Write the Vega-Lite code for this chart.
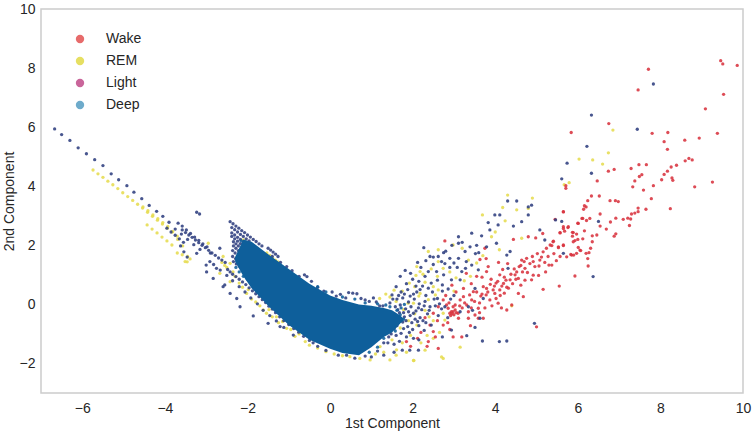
{"$schema":"https://vega.github.io/schema/vega-lite/v6.json","width":702,"height":384,"autosize":"none","padding":{"left":41,"top":9,"right":10,"bottom":39},"background":"white","config":{"font":"Liberation Sans","view":{"stroke":"#cccccc","strokeWidth":1.5}},
"layer":[
{"data":{"values":[{"c":"Wake","x":0,"y":0},{"c":"REM","x":0,"y":0},{"c":"Light","x":0,"y":0},{"c":"Deep","x":0,"y":0}]},
"mark":{"type":"point","filled":true,"opacity":0,"size":1},
"encoding":{"x":{"field":"x","type":"quantitative","title":"1st Component","scale":{"domain":[-7,10],"nice":false},"axis":{"values":[-6,-4,-2,0,2,4,6,8,10],"grid":false,"ticks":false,"domain":false,"labelFlush":false,"labelFontSize":14,"labelColor":"#262626","labelPadding":8,"titleFontSize":14,"titleFontWeight":"normal","titleColor":"#262626","titlePadding":1}},
"y":{"field":"y","type":"quantitative","title":"2nd Component","scale":{"domain":[-3,10],"nice":false},"axis":{"values":[-2,0,2,4,6,8,10],"grid":false,"ticks":false,"domain":false,"labelFlush":false,"labelFontSize":14,"labelColor":"#262626","labelPadding":6,"titleFontSize":14,"titleFontWeight":"normal","titleColor":"#262626","titlePadding":3}},
"color":{"field":"c","type":"nominal","scale":{"domain":["Wake","REM","Light","Deep"],"range":["#e76b6b","#e6df62","#c9659a","#6eabcb"]},"legend":{"title":null,"orient":"none","legendX":32,"legendY":23,"labelFontSize":14,"labelColor":"#262626","symbolSize":70,"symbolType":"circle","symbolOpacity":1,"symbolStrokeWidth":0,"labelOffset":19,"rowPadding":8}}}},
{"data":{"values":[
{"c":"REM","x":-5.74,"y":4.55},{"c":"REM","x":-5.62,"y":4.42},{"c":"REM","x":-5.5,"y":4.3},{"c":"REM","x":-5.38,"y":4.17},{"c":"REM","x":-5.26,"y":4.05},{"c":"REM","x":-5.14,"y":3.92},{"c":"REM","x":-5.02,"y":3.78},{"c":"REM","x":-4.9,"y":3.65},{"c":"REM","x":-4.78,"y":3.52},{"c":"REM","x":-4.66,"y":3.39},{"c":"REM","x":-4.54,"y":3.26},{"c":"REM","x":-4.42,"y":3.12},{"c":"REM","x":-4.3,"y":2.98},{"c":"REM","x":-4.18,"y":2.85},{"c":"REM","x":-4.06,"y":2.72},{"c":"REM","x":-3.94,"y":2.58},{"c":"REM","x":-3.82,"y":2.45},{"c":"REM","x":-3.7,"y":2.31},{"c":"REM","x":-3.58,"y":1.68},{"c":"REM","x":-3.46,"y":1.44},
{"c":"REM","x":-4.53,"y":3.3},{"c":"REM","x":-4.41,"y":3.17},{"c":"REM","x":-4.29,"y":3.03},{"c":"REM","x":-4.17,"y":2.9},{"c":"REM","x":-4.05,"y":2.77},{"c":"REM","x":-3.93,"y":2.64},{"c":"REM","x":-3.81,"y":2.47},{"c":"REM","x":-3.69,"y":2.2},{"c":"REM","x":-3.57,"y":1.98},{"c":"REM","x":-3.45,"y":1.62},{"c":"REM","x":-3.39,"y":1.54},
{"c":"REM","x":-4.43,"y":2.69},{"c":"REM","x":-4.31,"y":2.55},{"c":"REM","x":-4.19,"y":2.42},{"c":"REM","x":-4.07,"y":2.28},{"c":"REM","x":-3.95,"y":2.15},{"c":"REM","x":-3.83,"y":2.01},{"c":"REM","x":-3.7,"y":1.74},
{"c":"REM","x":-2.95,"y":2.07},{"c":"REM","x":-3.51,"y":1.45},{"c":"REM","x":-2.59,"y":1.62},{"c":"REM","x":-2.42,"y":1.39},{"c":"REM","x":-2.42,"y":0.77},{"c":"REM","x":-2.67,"y":1.05},{"c":"REM","x":-2.02,"y":0.37},{"c":"REM","x":-1.62,"y":-0.19},{"c":"REM","x":-1.05,"y":-0.81},{"c":"REM","x":-1.54,"y":-0.3},{"c":"REM","x":-1.4,"y":-0.42},{"c":"REM","x":-1.25,"y":-0.62},{"c":"REM","x":-0.85,"y":-1.08},{"c":"REM","x":-0.6,"y":-1.26},{"c":"REM","x":-2.3,"y":0.95},{"c":"REM","x":-2.2,"y":0.72},{"c":"REM","x":-2.5,"y":1.25},{"c":"REM","x":-1.9,"y":0.18},{"c":"REM","x":-2.62,"y":1.42},{"c":"REM","x":-2.55,"y":1.32},{"c":"REM","x":-2.35,"y":1.1},{"c":"REM","x":-2.12,"y":0.58},{"c":"REM","x":-1.98,"y":0.5},{"c":"REM","x":-1.8,"y":0.08},{"c":"REM","x":-1.7,"y":-0.05},{"c":"REM","x":-1.48,"y":-0.18},{"c":"REM","x":-1.3,"y":-0.42},{"c":"REM","x":-1.15,"y":-0.58},{"c":"REM","x":-0.95,"y":-0.85},{"c":"REM","x":-0.75,"y":-1.0},{"c":"REM","x":-0.5,"y":-1.38},{"c":"REM","x":-0.3,"y":-1.48},{"c":"REM","x":-0.1,"y":-1.6},{"c":"REM","x":0.1,"y":-1.68},{"c":"REM","x":0.3,"y":-1.74},
{"c":"REM","x":0.48,"y":-1.77},{"c":"REM","x":0.72,"y":-1.83},{"c":"REM","x":0.97,"y":-1.88},{"c":"REM","x":1.45,"y":-1.88},{"c":"REM","x":2.02,"y":-1.9},{"c":"REM","x":2.74,"y":-1.83},{"c":"REM","x":2.7,"y":-1.78},{"c":"REM","x":1.21,"y":-1.43},{"c":"REM","x":1.61,"y":-1.54},{"c":"REM","x":1.3,"y":-1.62},{"c":"REM","x":1.1,"y":-1.68},{"c":"REM","x":1.75,"y":-1.3},{"c":"REM","x":1.5,"y":-1.2},{"c":"REM","x":1.95,"y":-1.05},{"c":"REM","x":2.2,"y":-1.3},{"c":"REM","x":2.35,"y":-1.05},{"c":"REM","x":1.7,"y":-0.8},{"c":"REM","x":1.9,"y":-0.55},{"c":"REM","x":2.1,"y":-0.7},{"c":"REM","x":2.5,"y":-0.55},{"c":"REM","x":1.6,"y":0.1},{"c":"REM","x":1.45,"y":0.25},{"c":"REM","x":1.75,"y":0.45},{"c":"REM","x":1.2,"y":0.2},{"c":"REM","x":1.35,"y":0.35},{"c":"REM","x":1.55,"y":0.48},{"c":"REM","x":1.92,"y":0.72},{"c":"REM","x":2.08,"y":0.98},{"c":"REM","x":2.25,"y":1.02},{"c":"REM","x":2.45,"y":1.2},{"c":"REM","x":2.6,"y":0.95},{"c":"REM","x":2.15,"y":0.28},{"c":"REM","x":2.38,"y":0.16},{"c":"REM","x":2.55,"y":0.32},{"c":"REM","x":2.3,"y":-0.2},{"c":"REM","x":2.05,"y":-0.32},{"c":"REM","x":1.6,"y":-1.72},{"c":"REM","x":1.85,"y":-1.62},{"c":"REM","x":2.3,"y":-1.55},{"c":"REM","x":2.5,"y":-1.15},{"c":"REM","x":2.65,"y":-0.95},{"c":"REM","x":1.78,"y":-0.18},{"c":"REM","x":2.4,"y":-0.42},{"c":"REM","x":3.4,"y":0.95},{"c":"REM","x":3.55,"y":1.4},{"c":"REM","x":3.7,"y":1.65},{"c":"REM","x":3.2,"y":1.9},{"c":"REM","x":2.62,"y":1.85},{"c":"REM","x":4.1,"y":1.85},{"c":"REM","x":4.0,"y":2.45},
{"c":"REM","x":3.69,"y":3.03},{"c":"REM","x":4.18,"y":3.28},{"c":"REM","x":4.52,"y":3.2},{"c":"REM","x":4.8,"y":3.25},{"c":"REM","x":4.24,"y":2.83},{"c":"REM","x":3.91,"y":2.29},{"c":"REM","x":4.64,"y":2.24},{"c":"REM","x":2.98,"y":2.01},{"c":"REM","x":2.38,"y":1.79},{"c":"REM","x":2.62,"y":1.45},{"c":"REM","x":3.35,"y":1.5},{"c":"REM","x":2.1,"y":1.28},{"c":"REM","x":2.18,"y":1.11},{"c":"REM","x":2.74,"y":1.22},{"c":"REM","x":4.4,"y":-0.05},{"c":"REM","x":2.03,"y":-1.9},{"c":"REM","x":3.15,"y":-1.45},{"c":"REM","x":2.78,"y":-0.53},{"c":"REM","x":1.89,"y":0.04},{"c":"REM","x":2.02,"y":0.04},{"c":"REM","x":2.18,"y":0.37},{"c":"REM","x":2.62,"y":0.49},{"c":"REM","x":2.5,"y":0.6},{"c":"REM","x":2.74,"y":-0.3},{"c":"REM","x":4.3,"y":3.7},{"c":"REM","x":4.9,"y":3.6},{"c":"REM","x":2.9,"y":1.1},{"c":"REM","x":3.05,"y":0.9},{"c":"REM","x":2.3,"y":0.75},{"c":"REM","x":2.05,"y":0.6},{"c":"REM","x":3.0,"y":0.45},{"c":"REM","x":3.25,"y":0.8},
{"c":"REM","x":6.85,"y":5.9},{"c":"REM","x":6.74,"y":5.13},{"c":"REM","x":6.03,"y":4.92},{"c":"REM","x":6.36,"y":4.89},{"c":"REM","x":6.6,"y":4.75},{"c":"REM","x":5.79,"y":4.12},{"c":"REM","x":5.67,"y":4.05},
{"c":"REM","x":-2.1,"y":2.18},{"c":"REM","x":-2.0,"y":2.08},{"c":"REM","x":-1.93,"y":2.0},{"c":"REM","x":-1.86,"y":1.92},{"c":"REM","x":-1.79,"y":1.85},{"c":"REM","x":-1.72,"y":1.78},{"c":"REM","x":-1.65,"y":1.7},{"c":"REM","x":-1.53,"y":1.74},{"c":"REM","x":-1.46,"y":1.66},{"c":"REM","x":-1.39,"y":1.58},{"c":"REM","x":-1.32,"y":1.5},{"c":"REM","x":-1.26,"y":1.44},
{"c":"Wake","x":9.46,"y":8.25},{"c":"Wake","x":9.51,"y":8.14},{"c":"Wake","x":9.86,"y":8.09},{"c":"Wake","x":7.71,"y":7.96},{"c":"Wake","x":7.46,"y":7.26},{"c":"Wake","x":9.53,"y":7.11},{"c":"Wake","x":9.09,"y":6.62},{"c":"Wake","x":6.75,"y":6.12},{"c":"Wake","x":5.84,"y":5.82},{"c":"Wake","x":7.8,"y":5.79},{"c":"Wake","x":8.18,"y":5.82},{"c":"Wake","x":9.38,"y":5.79},{"c":"Wake","x":8.94,"y":5.63},{"c":"Wake","x":8.59,"y":5.56},{"c":"Wake","x":8.09,"y":5.51},{"c":"Wake","x":8.17,"y":5.25},{"c":"Wake","x":8.69,"y":4.94},{"c":"Wake","x":8.77,"y":4.89},{"c":"Wake","x":8.6,"y":4.86},{"c":"Wake","x":8.39,"y":4.71},{"c":"Wake","x":8.26,"y":4.65},{"c":"Wake","x":8.17,"y":4.51},{"c":"Wake","x":8.09,"y":4.4},{"c":"Wake","x":8.03,"y":4.22},{"c":"Wake","x":8.28,"y":4.28},{"c":"Wake","x":8.3,"y":4.2},{"c":"Wake","x":7.66,"y":4.73},{"c":"Wake","x":7.48,"y":4.73},{"c":"Wake","x":7.29,"y":4.6},{"c":"Wake","x":6.88,"y":4.57},{"c":"Wake","x":6.74,"y":4.51},{"c":"Wake","x":7.55,"y":4.39},{"c":"Wake","x":7.49,"y":4.33},{"c":"Wake","x":7.38,"y":4.18},{"c":"Wake","x":7.33,"y":3.98},{"c":"Wake","x":7.83,"y":4.02},{"c":"Wake","x":7.59,"y":3.87},{"c":"Wake","x":8.83,"y":3.98},{"c":"Wake","x":9.26,"y":4.14},{"c":"Wake","x":6.47,"y":4.18},{"c":"Wake","x":5.71,"y":4.02},{"c":"Wake","x":5.71,"y":3.93},{"c":"Wake","x":7.78,"y":3.58},{"c":"Wake","x":6.33,"y":3.67},{"c":"Wake","x":6.52,"y":3.67},{"c":"Wake","x":6.24,"y":3.51},{"c":"Wake","x":6.78,"y":3.51},{"c":"Wake","x":6.91,"y":3.51},{"c":"Wake","x":6.98,"y":3.48},{"c":"Wake","x":6.16,"y":3.34},{"c":"Wake","x":6.2,"y":3.3},{"c":"Wake","x":6.14,"y":3.22},{"c":"Wake","x":7.65,"y":3.22},{"c":"Wake","x":8.24,"y":3.24},{"c":"Wake","x":7.46,"y":3.26},{"c":"Wake","x":7.46,"y":3.14},{"c":"Wake","x":7.38,"y":3.09},{"c":"Wake","x":7.3,"y":3.06},{"c":"Wake","x":5.65,"y":3.13},{"c":"Wake","x":6.54,"y":3.06},{"c":"Wake","x":6.92,"y":2.92},{"c":"Wake","x":7.21,"y":2.92},{"c":"Wake","x":7.28,"y":2.89},{"c":"Wake","x":7.1,"y":2.88},{"c":"Wake","x":6.79,"y":2.79},{"c":"Wake","x":7.25,"y":2.67},{"c":"Wake","x":6.69,"y":2.55},{"c":"Wake","x":6.29,"y":2.91},{"c":"Wake","x":6.12,"y":2.91},{"c":"Wake","x":6.21,"y":2.84},{"c":"Wake","x":6.0,"y":2.75},{"c":"Wake","x":6.54,"y":2.65},{"c":"Wake","x":6.16,"y":2.49},{"c":"Wake","x":6.35,"y":2.32},{"c":"Wake","x":6.46,"y":2.35},{"c":"Wake","x":6.92,"y":2.39},{"c":"Wake","x":6.88,"y":2.31},{"c":"Wake","x":5.65,"y":2.63},{"c":"Wake","x":5.76,"y":2.6},{"c":"Wake","x":5.68,"y":2.48},{"c":"Wake","x":5.57,"y":2.42},{"c":"Wake","x":5.87,"y":2.44},{"c":"Wake","x":5.97,"y":2.38},{"c":"Wake","x":5.87,"y":2.31},{"c":"Wake","x":6.0,"y":2.2},{"c":"Wake","x":6.12,"y":2.22},{"c":"Wake","x":5.93,"y":2.16},{"c":"Wake","x":6.35,"y":2.12},{"c":"Wake","x":6.31,"y":1.9},{"c":"Wake","x":6.01,"y":1.93},{"c":"Wake","x":6.07,"y":1.82},{"c":"Wake","x":6.27,"y":1.75},{"c":"Wake","x":5.65,"y":1.99},{"c":"Wake","x":5.53,"y":1.95},{"c":"Wake","x":5.41,"y":2.14},{"c":"Wake","x":5.37,"y":1.99},{"c":"Wake","x":5.83,"y":1.69},{"c":"Wake","x":5.9,"y":1.67},{"c":"Wake","x":5.73,"y":1.61},{"c":"Wake","x":6.24,"y":1.55},
{"c":"Wake","x":2.78,"y":2.15},{"c":"Wake","x":5.65,"y":3.14},{"c":"Wake","x":5.45,"y":2.88},{"c":"Wake","x":6.1,"y":2.91},{"c":"Wake","x":6.01,"y":2.74},{"c":"Wake","x":5.65,"y":2.57},{"c":"Wake","x":5.77,"y":2.63},{"c":"Wake","x":5.57,"y":2.43},{"c":"Wake","x":5.89,"y":2.43},{"c":"Wake","x":5.4,"y":2.12},{"c":"Wake","x":5.33,"y":2.01},{"c":"Wake","x":5.24,"y":1.9},{"c":"Wake","x":5.16,"y":1.78},{"c":"Wake","x":5.65,"y":2.01},{"c":"Wake","x":5.53,"y":1.92},{"c":"Wake","x":5.89,"y":2.12},{"c":"Wake","x":6.05,"y":1.84},{"c":"Wake","x":6.2,"y":1.73},{"c":"Wake","x":5.97,"y":1.73},{"c":"Wake","x":5.85,"y":1.67},{"c":"Wake","x":5.57,"y":1.62},{"c":"Wake","x":5.37,"y":1.33},{"c":"Wake","x":5.3,"y":1.33},{"c":"Wake","x":5.08,"y":1.5},{"c":"Wake","x":4.92,"y":1.45},{"c":"Wake","x":4.76,"y":1.56},{"c":"Wake","x":4.64,"y":1.5},{"c":"Wake","x":4.8,"y":2.29},{"c":"Wake","x":4.44,"y":2.2},{"c":"Wake","x":3.75,"y":1.9},{"c":"Wake","x":3.63,"y":1.52},{"c":"Wake","x":3.83,"y":1.28},{"c":"Wake","x":3.79,"y":1.11},{"c":"Wake","x":4.11,"y":1},{"c":"Wake","x":4.48,"y":1},{"c":"Wake","x":4.56,"y":0.88},{"c":"Wake","x":4.88,"y":0.83},{"c":"Wake","x":4.28,"y":0.58},{"c":"Wake","x":4.11,"y":0.49},{"c":"Wake","x":3.99,"y":0.37},{"c":"Wake","x":3.79,"y":0.54},{"c":"Wake","x":3.71,"y":0.6},{"c":"Wake","x":4.56,"y":0.37},{"c":"Wake","x":4.68,"y":0.26},{"c":"Wake","x":5.16,"y":0.51},{"c":"Wake","x":5.55,"y":0.62},{"c":"Wake","x":5.93,"y":0.96},{"c":"Wake","x":6.25,"y":1.3},{"c":"Wake","x":4.07,"y":0.04},{"c":"Wake","x":4.28,"y":-0.19},{"c":"Wake","x":4.4,"y":-0.02},{"c":"Wake","x":3.87,"y":0.15},{"c":"Wake","x":3.59,"y":-0.13},{"c":"Wake","x":3.43,"y":0.15},{"c":"Wake","x":3.31,"y":-0.02},{"c":"Wake","x":3.15,"y":0.15},{"c":"Wake","x":3.03,"y":-0.02},{"c":"Wake","x":2.94,"y":-0.25},{"c":"Wake","x":3.23,"y":0.26},{"c":"Wake","x":2.86,"y":-0.13},{"c":"Wake","x":2.74,"y":0.15},{"c":"Wake","x":2.5,"y":-0.3},{"c":"Wake","x":2.62,"y":-0.08},{"c":"Wake","x":3.71,"y":-0.47},{"c":"Wake","x":3.59,"y":-0.47},{"c":"Wake","x":3.35,"y":-0.47},{"c":"Wake","x":3.11,"y":-0.47},{"c":"Wake","x":2.74,"y":-0.7},{"c":"Wake","x":2.5,"y":-0.92},{"c":"Wake","x":3.19,"y":-1.1},{"c":"Wake","x":5,"y":-0.76},{"c":"Wake","x":2.98,"y":-1.1},{"c":"Wake","x":2.62,"y":-1.49},{"c":"Wake","x":1.85,"y":-1.26},{"c":"Wake","x":2.38,"y":-1.26},{"c":"Wake","x":4.92,"y":0.99},{"c":"Wake","x":4.72,"y":1.22},{"c":"Wake","x":4.52,"y":1.1},{"c":"Wake","x":4.36,"y":0.83},{"c":"Wake","x":4.2,"y":0.71},{"c":"Wake","x":3.95,"y":0.49},{"c":"Wake","x":3.47,"y":0.43},{"c":"Wake","x":3.23,"y":0.54},{"c":"Wake","x":2.98,"y":-0.08},{"c":"Wake","x":3.35,"y":-0.25},{"c":"Wake","x":3.51,"y":-0.36},{"c":"Wake","x":2.9,"y":-0.3},{"c":"Wake","x":2.98,"y":-0.25},{"c":"Wake","x":3.03,"y":-0.19},{"c":"Wake","x":3.1,"y":-0.3},{"c":"Wake","x":3.2,"y":-0.12},{"c":"Wake","x":3.65,"y":0.28},{"c":"Wake","x":3.78,"y":0.32},{"c":"Wake","x":4.22,"y":0.92},{"c":"Wake","x":4.62,"y":1.32},{"c":"Wake","x":2.3,"y":-0.45},{"c":"Wake","x":2.2,"y":-0.95},{"c":"Wake","x":2.8,"y":0.3},{"c":"Wake","x":2.95,"y":0.65},{"c":"Wake","x":3.3,"y":1.05},{"c":"Wake","x":3.55,"y":0.95},{"c":"Wake","x":3.9,"y":0.85},{"c":"Wake","x":4.02,"y":0.72},
{"c":"Wake","x":2.82,"y":-0.02},{"c":"Wake","x":2.88,"y":0.05},{"c":"Wake","x":2.92,"y":-0.38},{"c":"Wake","x":2.95,"y":-0.32},{"c":"Wake","x":3.0,"y":-0.35},{"c":"Wake","x":3.06,"y":-0.28},{"c":"Wake","x":3.14,"y":-0.05},{"c":"Wake","x":3.26,"y":0.05},{"c":"Wake","x":3.38,"y":0.32},{"c":"Wake","x":3.5,"y":0.1},{"c":"Wake","x":3.55,"y":0.42},{"c":"Wake","x":3.62,"y":0.05},{"c":"Wake","x":3.68,"y":0.35},{"c":"Wake","x":3.75,"y":-0.12},{"c":"Wake","x":3.82,"y":0.42},{"c":"Wake","x":3.88,"y":0.68},{"c":"Wake","x":3.92,"y":-0.05},{"c":"Wake","x":3.98,"y":0.62},{"c":"Wake","x":4.02,"y":0.2},{"c":"Wake","x":4.06,"y":0.78},{"c":"Wake","x":4.12,"y":0.3},{"c":"Wake","x":4.16,"y":0.62},{"c":"Wake","x":4.22,"y":0.38},{"c":"Wake","x":4.26,"y":0.82},{"c":"Wake","x":4.32,"y":0.55},{"c":"Wake","x":4.38,"y":1.02},{"c":"Wake","x":4.42,"y":0.7},{"c":"Wake","x":4.46,"y":1.2},{"c":"Wake","x":4.5,"y":0.85},{"c":"Wake","x":4.58,"y":1.28},{"c":"Wake","x":4.66,"y":1.1},{"c":"Wake","x":4.7,"y":1.45},{"c":"Wake","x":4.78,"y":1.08},{"c":"Wake","x":4.84,"y":1.38},{"c":"Wake","x":4.9,"y":1.62},{"c":"Wake","x":4.96,"y":1.28},{"c":"Wake","x":5.02,"y":1.72},{"c":"Wake","x":5.06,"y":1.3},{"c":"Wake","x":5.12,"y":1.6},{"c":"Wake","x":5.2,"y":1.42},{"c":"Wake","x":5.22,"y":1.1},{"c":"Wake","x":5.28,"y":1.62},{"c":"Wake","x":5.42,"y":1.72},{"c":"Wake","x":5.48,"y":1.48},{"c":"Wake","x":4.15,"y":-0.12},{"c":"Wake","x":3.62,"y":-0.28},{"c":"Wake","x":3.42,"y":-0.12},{"c":"Wake","x":3.78,"y":1.55},{"c":"Wake","x":4.08,"y":1.42},{"c":"Wake","x":4.3,"y":1.38},{"c":"Wake","x":4.18,"y":1.18},{"c":"Wake","x":3.68,"y":0.92},{"c":"Wake","x":3.42,"y":0.7},{"c":"Wake","x":4.62,"y":0.65},{"c":"Wake","x":4.72,"y":0.82},{"c":"Wake","x":5.05,"y":0.98},{"c":"Wake","x":4.98,"y":2.25},{"c":"Wake","x":5.15,"y":2.4},{"c":"Wake","x":3.05,"y":0.42},{"c":"Wake","x":2.85,"y":-0.62},{"c":"Wake","x":2.6,"y":-0.55},{"c":"Wake","x":2.42,"y":-0.7},{"c":"Wake","x":2.55,"y":-1.1},{"c":"Wake","x":2.9,"y":-0.85},{"c":"Wake","x":3.4,"y":-0.72},{"c":"Wake","x":2.12,"y":-1.15},{"c":"Wake","x":1.95,"y":-1.42},{"c":"Wake","x":2.35,"y":-1.42},
{"c":"Light","x":-6.67,"y":5.94},{"c":"Light","x":-6.5,"y":5.75},{"c":"Light","x":-6.3,"y":5.55},{"c":"Light","x":-6.1,"y":5.3},{"c":"Light","x":-5.9,"y":5.1},{"c":"Light","x":-5.7,"y":4.9},{"c":"Light","x":-5.5,"y":4.7},{"c":"Light","x":-5.3,"y":4.42},{"c":"Light","x":-5.12,"y":4.22},{"c":"Light","x":-4.92,"y":4.02},{"c":"Light","x":-4.75,"y":3.8},{"c":"Light","x":-4.56,"y":3.58},{"c":"Light","x":-4.38,"y":3.35},{"c":"Light","x":-4.2,"y":3.15},{"c":"Light","x":-4.05,"y":2.98},{"c":"Light","x":-3.9,"y":2.78},{"c":"Light","x":-3.75,"y":2.55},{"c":"Light","x":-3.6,"y":2.38},{"c":"Light","x":-3.45,"y":2.2},{"c":"Light","x":-3.3,"y":2.02},{"c":"Light","x":-3.15,"y":1.86},{"c":"Light","x":-3.0,"y":1.33},
{"c":"Light","x":-3.95,"y":2.58},{"c":"Light","x":-3.85,"y":2.45},{"c":"Light","x":-3.75,"y":2.34},{"c":"Light","x":-3.65,"y":2.22},{"c":"Light","x":-3.55,"y":2.1},{"c":"Light","x":-3.62,"y":1.98},{"c":"Light","x":-3.54,"y":1.78},{"c":"Light","x":-3.46,"y":1.6},{"c":"Light","x":-3.68,"y":2.75},{"c":"Light","x":-3.58,"y":2.65},{"c":"Light","x":-3.48,"y":2.52},{"c":"Light","x":-3.38,"y":2.4},{"c":"Light","x":-3.28,"y":2.28},{"c":"Light","x":-3.18,"y":2.17},{"c":"Light","x":-3.08,"y":2.05},{"c":"Light","x":-2.98,"y":1.95},{"c":"Light","x":-2.9,"y":1.74},{"c":"Light","x":-3.58,"y":2.52},{"c":"Light","x":-3.5,"y":2.43},{"c":"Light","x":-3.42,"y":2.35},{"c":"Light","x":-3.34,"y":2.27},{"c":"Light","x":-3.26,"y":2.18},{"c":"Light","x":-3.18,"y":2.09},{"c":"Light","x":-3.1,"y":2.0},{"c":"Light","x":-3.02,"y":1.92},{"c":"Light","x":-2.94,"y":1.83},{"c":"Light","x":-2.86,"y":1.74},{"c":"Light","x":-2.78,"y":1.66},{"c":"Light","x":-2.7,"y":1.57},{"c":"Light","x":-2.62,"y":1.5},{"c":"Light","x":-2.54,"y":1.42},{"c":"Light","x":-3.23,"y":3.12},{"c":"Light","x":-3.16,"y":3.06},{"c":"Light","x":-3.23,"y":1.73},{"c":"Light","x":-2.99,"y":1.1},{"c":"Light","x":-2.83,"y":0.88},{"c":"Light","x":-2.59,"y":0.6},{"c":"Light","x":-2.18,"y":-0.08},{"c":"Light","x":-1.86,"y":-0.39},{"c":"Light","x":-1.5,"y":-0.64},{"c":"Light","x":-1.21,"y":-0.75},{"c":"Light","x":-0.89,"y":-1.04},{"c":"Light","x":-0.41,"y":-1.3},{"c":"Light","x":-2.67,"y":1.9},{"c":"Light","x":-2.91,"y":1.45},{"c":"Light","x":-2.75,"y":1.22},{"c":"Light","x":-2.55,"y":0.66},{"c":"Light","x":-2.26,"y":0.2},{"c":"Light","x":-2.42,"y":0.37},{"c":"Light","x":-2.82,"y":1.35},{"c":"Light","x":-2.66,"y":1.16},{"c":"Light","x":-2.5,"y":0.98},{"c":"Light","x":-2.36,"y":0.8},{"c":"Light","x":-2.2,"y":0.6},{"c":"Light","x":-2.06,"y":0.42},{"c":"Light","x":-1.92,"y":0.22},{"c":"Light","x":-1.76,"y":0.02},{"c":"Light","x":-1.62,"y":-0.2},{"c":"Light","x":-1.46,"y":-0.38},{"c":"Light","x":-1.3,"y":-0.56},{"c":"Light","x":-1.12,"y":-0.78},
{"c":"Light","x":-2.42,"y":2.8},{"c":"Light","x":-2.35,"y":2.73},{"c":"Light","x":-2.28,"y":2.65},{"c":"Light","x":-2.21,"y":2.58},{"c":"Light","x":-2.14,"y":2.5},{"c":"Light","x":-2.07,"y":2.43},{"c":"Light","x":-2.0,"y":2.35},{"c":"Light","x":-1.93,"y":2.28},{"c":"Light","x":-1.86,"y":2.2},{"c":"Light","x":-1.79,"y":2.13},{"c":"Light","x":-1.72,"y":2.05},{"c":"Light","x":-1.65,"y":1.98},
{"c":"Light","x":-2.38,"y":2.6},{"c":"Light","x":-2.31,"y":2.53},{"c":"Light","x":-2.24,"y":2.45},{"c":"Light","x":-2.17,"y":2.37},{"c":"Light","x":-2.1,"y":2.3},{"c":"Light","x":-2.03,"y":2.22},{"c":"Light","x":-1.96,"y":2.15},
{"c":"Light","x":-2.38,"y":2.42},{"c":"Light","x":-2.31,"y":2.35},{"c":"Light","x":-2.24,"y":2.27},{"c":"Light","x":-2.17,"y":2.2},{"c":"Light","x":-2.1,"y":2.12},{"c":"Light","x":-2.38,"y":2.3},{"c":"Light","x":-2.31,"y":2.22},{"c":"Light","x":-2.24,"y":2.14},{"c":"Light","x":-2.17,"y":2.06},{"c":"Light","x":-2.36,"y":1.62},{"c":"Light","x":-2.29,"y":1.55},{"c":"Light","x":-2.22,"y":1.47},{"c":"Light","x":-2.15,"y":1.4},{"c":"Light","x":-2.34,"y":1.45},{"c":"Light","x":-2.27,"y":1.37},{"c":"Light","x":-2.2,"y":1.3},{"c":"Light","x":-2.13,"y":1.22},{"c":"Light","x":-2.06,"y":1.15},{"c":"Light","x":-1.99,"y":1.07},{"c":"Light","x":-1.5,"y":1.9},{"c":"Light","x":-1.44,"y":1.84},{"c":"Light","x":-1.38,"y":1.77},{"c":"Light","x":-1.32,"y":1.7},{"c":"Light","x":-1.26,"y":1.62},{"c":"Light","x":-0.62,"y":1.0},{"c":"Light","x":-0.56,"y":0.94},{"c":"Light","x":0.05,"y":0.42},{"c":"Light","x":0.25,"y":0.34},{"c":"Light","x":0.45,"y":0.4},{"c":"Light","x":0.55,"y":0.38},{"c":"Light","x":0.65,"y":0.36},{"c":"Light","x":0.85,"y":0.15},{"c":"Light","x":1.05,"y":0.22},{"c":"Light","x":1.2,"y":-0.05},{"c":"Light","x":0.2,"y":-1.72},{"c":"Light","x":0.6,"y":-1.82},{"c":"Light","x":1.0,"y":-1.78},{"c":"Light","x":1.3,"y":-1.72},{"c":"Light","x":1.55,"y":-1.62},{"c":"Light","x":1.75,"y":-1.55},
{"c":"Light","x":-2.34,"y":2.12},{"c":"Light","x":-2.28,"y":2.05},{"c":"Light","x":-2.22,"y":1.98},{"c":"Light","x":-2.34,"y":1.98},{"c":"Light","x":-2.28,"y":1.9},{"c":"Light","x":-2.22,"y":1.82},{"c":"Light","x":-2.16,"y":1.75},{"c":"Light","x":-2.1,"y":1.68},{"c":"Light","x":-2.36,"y":1.82},{"c":"Light","x":-2.3,"y":1.74},{"c":"Light","x":-2.15,"y":1.9},{"c":"Light","x":-2.08,"y":1.82},{"c":"Light","x":-2.02,"y":1.74},{"c":"Light","x":-2.08,"y":1.55},{"c":"Light","x":-2.02,"y":1.48},{"c":"Light","x":-2.48,"y":1.18},{"c":"Light","x":-2.42,"y":1.1},{"c":"Light","x":-2.36,"y":1.02},{"c":"Light","x":-2.28,"y":0.94},{"c":"Light","x":-2.2,"y":0.85},{"c":"Light","x":-2.12,"y":0.76},{"c":"Light","x":-2.04,"y":0.67},{"c":"Light","x":-1.96,"y":0.56},{"c":"Light","x":-1.88,"y":0.46},{"c":"Light","x":-1.8,"y":0.36},{"c":"Light","x":-1.72,"y":0.26},{"c":"Light","x":-1.64,"y":0.16},{"c":"Light","x":-1.56,"y":0.06},{"c":"Light","x":-1.48,"y":-0.06},{"c":"Light","x":-1.4,"y":-0.16},{"c":"Light","x":-1.32,"y":-0.28},{"c":"Light","x":-1.22,"y":-0.42},{"c":"Light","x":-1.12,"y":-0.55},{"c":"Light","x":-1.0,"y":-0.68},{"c":"Light","x":-0.88,"y":-0.82},{"c":"Light","x":-0.76,"y":-0.94},{"c":"Light","x":-0.64,"y":-1.08},{"c":"Light","x":-0.5,"y":-1.22},{"c":"Light","x":-1.4,"y":1.62},{"c":"Light","x":-1.2,"y":1.42},{"c":"Light","x":-1.05,"y":1.28},{"c":"Light","x":-0.92,"y":1.14},{"c":"Light","x":-0.75,"y":0.95},{"c":"Light","x":-0.45,"y":0.78},{"c":"Light","x":-0.3,"y":0.58},{"c":"Light","x":-0.15,"y":0.45},{"c":"Light","x":0.15,"y":0.28},{"c":"Light","x":0.38,"y":0.22},{"c":"Light","x":0.75,"y":0.2},{"c":"Light","x":0.95,"y":0.1},{"c":"Light","x":1.12,"y":0.08},{"c":"Light","x":1.28,"y":-0.05},{"c":"Light","x":-0.3,"y":-1.42},{"c":"Light","x":-0.1,"y":-1.56},{"c":"Light","x":0.4,"y":-1.72},{"c":"Light","x":0.85,"y":-1.75},{"c":"Light","x":1.15,"y":-1.58},{"c":"Light","x":1.3,"y":-1.3},{"c":"Light","x":1.42,"y":-1.1},
{"c":"Light","x":2.27,"y":1.92},{"c":"Light","x":3.11,"y":2.29},{"c":"Light","x":3.43,"y":2.41},{"c":"Light","x":3.67,"y":2.32},{"c":"Light","x":3.83,"y":2.77},{"c":"Light","x":3.99,"y":3.03},{"c":"Light","x":4.11,"y":3.03},{"c":"Light","x":4.52,"y":3.5},{"c":"Light","x":4.88,"y":3.36},{"c":"Light","x":4.8,"y":3.03},{"c":"Light","x":4.44,"y":2.65},{"c":"Light","x":4.64,"y":2.8},{"c":"Light","x":5.08,"y":2.52},{"c":"Light","x":5.2,"y":2.18},{"c":"Light","x":4.07,"y":2.69},{"c":"Light","x":3.87,"y":2.52},{"c":"Light","x":4.03,"y":2.07},{"c":"Light","x":4.36,"y":1.79},{"c":"Light","x":4.28,"y":1.67},{"c":"Light","x":3.79,"y":1.95},{"c":"Light","x":3.27,"y":1.79},{"c":"Light","x":3.39,"y":1.95},{"c":"Light","x":3.11,"y":2.07},{"c":"Light","x":2.9,"y":1.56},{"c":"Light","x":2.62,"y":1.62},{"c":"Light","x":2.42,"y":1.62},{"c":"Light","x":2.7,"y":1.45},{"c":"Light","x":2.38,"y":1.11},{"c":"Light","x":2.58,"y":1.11},{"c":"Light","x":3.11,"y":1.56},{"c":"Light","x":3.19,"y":1.11},{"c":"Light","x":3.15,"y":0.83},{"c":"Light","x":2.94,"y":0.83},{"c":"Light","x":3.43,"y":1.33},{"c":"Light","x":3.59,"y":1.17},{"c":"Light","x":6.37,"y":0.94},{"c":"Light","x":4.31,"y":1.22},{"c":"Light","x":3.51,"y":0.54},{"c":"Light","x":3.71,"y":0.2},{"c":"Light","x":3.35,"y":-0.08},{"c":"Light","x":3.63,"y":-0.47},{"c":"Light","x":3.51,"y":-0.78},{"c":"Light","x":3.31,"y":-1.06},{"c":"Light","x":2.94,"y":-0.87},{"c":"Light","x":2.72,"y":-1.1},{"c":"Light","x":3.69,"y":-1.24},{"c":"Light","x":4.1,"y":-1.26},{"c":"Light","x":4.28,"y":-1.24},{"c":"Light","x":4.95,"y":-0.64},{"c":"Light","x":2.14,"y":-1.55},{"c":"Light","x":1.93,"y":-1.55},{"c":"Light","x":4.3,"y":3.5},{"c":"Light","x":4.8,"y":3.3},
{"c":"Light","x":1.7,"y":0.95},{"c":"Light","x":1.85,"y":0.7},{"c":"Light","x":2.0,"y":0.85},{"c":"Light","x":2.15,"y":0.78},{"c":"Light","x":2.3,"y":0.95},{"c":"Light","x":2.45,"y":0.72},{"c":"Light","x":2.6,"y":0.82},{"c":"Light","x":2.72,"y":0.66},{"c":"Light","x":2.86,"y":0.52},{"c":"Light","x":1.6,"y":0.6},{"c":"Light","x":1.72,"y":0.42},{"c":"Light","x":1.88,"y":0.5},{"c":"Light","x":2.02,"y":0.35},{"c":"Light","x":2.18,"y":0.5},{"c":"Light","x":2.32,"y":0.3},{"c":"Light","x":2.48,"y":0.42},{"c":"Light","x":2.6,"y":0.2},{"c":"Light","x":1.5,"y":0.32},{"c":"Light","x":1.62,"y":0.18},{"c":"Light","x":1.76,"y":0.22},{"c":"Light","x":1.9,"y":0.08},{"c":"Light","x":2.04,"y":0.18},{"c":"Light","x":2.16,"y":0.02},{"c":"Light","x":2.3,"y":0.1},{"c":"Light","x":2.42,"y":-0.08},{"c":"Light","x":2.55,"y":-0.05},{"c":"Light","x":1.45,"y":0.05},{"c":"Light","x":1.58,"y":-0.08},{"c":"Light","x":1.7,"y":-0.02},{"c":"Light","x":1.83,"y":-0.15},{"c":"Light","x":1.96,"y":-0.08},{"c":"Light","x":2.08,"y":-0.22},{"c":"Light","x":2.22,"y":-0.18},{"c":"Light","x":2.36,"y":-0.32},{"c":"Light","x":1.42,"y":-0.25},{"c":"Light","x":1.55,"y":-0.32},{"c":"Light","x":1.68,"y":-0.28},{"c":"Light","x":1.8,"y":-0.42},{"c":"Light","x":1.94,"y":-0.38},{"c":"Light","x":2.06,"y":-0.5},{"c":"Light","x":2.18,"y":-0.45},{"c":"Light","x":2.32,"y":-0.62},{"c":"Light","x":2.45,"y":-0.7},{"c":"Light","x":1.5,"y":-0.6},{"c":"Light","x":1.62,"y":-0.72},{"c":"Light","x":1.76,"y":-0.6},{"c":"Light","x":1.88,"y":-0.75},{"c":"Light","x":2.0,"y":-0.85},{"c":"Light","x":2.15,"y":-0.72},{"c":"Light","x":2.28,"y":-0.88},{"c":"Light","x":1.48,"y":-1.0},{"c":"Light","x":1.6,"y":-1.05},{"c":"Light","x":1.72,"y":-0.98},{"c":"Light","x":1.85,"y":-1.1},{"c":"Light","x":2.02,"y":-1.15},{"c":"Light","x":2.15,"y":-1.2},{"c":"Light","x":1.4,"y":-1.3},{"c":"Light","x":1.55,"y":-1.35},{"c":"Light","x":1.68,"y":-1.25},
{"c":"Light","x":1.52,"y":0.18},{"c":"Light","x":1.66,"y":0.3},{"c":"Light","x":1.8,"y":0.35},{"c":"Light","x":1.94,"y":0.28},{"c":"Light","x":2.1,"y":0.42},{"c":"Light","x":2.24,"y":0.62},{"c":"Light","x":2.38,"y":0.55},{"c":"Light","x":2.52,"y":0.18},{"c":"Light","x":1.64,"y":-0.18},{"c":"Light","x":1.78,"y":-0.28},{"c":"Light","x":1.9,"y":-0.25},{"c":"Light","x":2.02,"y":-0.3},{"c":"Light","x":2.14,"y":-0.12},{"c":"Light","x":2.28,"y":-0.05},{"c":"Light","x":2.4,"y":-0.2},{"c":"Light","x":2.12,"y":-0.58},{"c":"Light","x":2.25,"y":-0.55},{"c":"Light","x":1.98,"y":-0.62},{"c":"Light","x":1.84,"y":-0.55},{"c":"Light","x":1.7,"y":-0.48},{"c":"Light","x":1.92,"y":-0.95},{"c":"Light","x":1.78,"y":-0.82},{"c":"Light","x":1.55,"y":-0.82},{"c":"Light","x":2.08,"y":0.62},{"c":"Light","x":1.95,"y":1.05},{"c":"Light","x":1.82,"y":1.15},{"c":"Light","x":2.12,"y":1.42},{"c":"Light","x":2.32,"y":1.48},{"c":"Light","x":2.5,"y":1.6},{"c":"Light","x":2.78,"y":1.38},{"c":"Light","x":3.08,"y":1.25},{"c":"Light","x":3.28,"y":1.22},{"c":"Light","x":3.52,"y":1.72},{"c":"Light","x":3.2,"y":2.1},{"c":"Light","x":2.95,"y":2.0},{"c":"Light","x":2.75,"y":1.75},{"c":"Light","x":2.92,"y":0.18},{"c":"Light","x":2.78,"y":-0.08},{"c":"Light","x":2.65,"y":0.02},{"c":"Light","x":2.62,"y":-0.38},{"c":"Light","x":2.72,"y":0.45},
{"c":"Light","x":2.75,"y":1.0},{"c":"Light","x":2.9,"y":1.25},{"c":"Light","x":3.0,"y":1.4},{"c":"Light","x":3.3,"y":1.45},{"c":"Light","x":2.5,"y":1.35},{"c":"Light","x":2.2,"y":1.25},{"c":"Light","x":2.8,"y":1.8},{"c":"Light","x":3.6,"y":1.75},{"c":"Light","x":3.55,"y":2.0},{"c":"Light","x":3.0,"y":0.3},{"c":"Light","x":3.15,"y":-0.25},{"c":"Light","x":2.85,"y":-0.45},{"c":"Light","x":3.45,"y":-0.2},{"c":"Light","x":2.7,"y":-0.15},
{"c":"Light","x":7.83,"y":7.46},{"c":"Light","x":6.33,"y":6.41},{"c":"Light","x":7.44,"y":5.93},{"c":"Light","x":6.22,"y":5.35},{"c":"Light","x":5.74,"y":4.78},{"c":"Light","x":6.33,"y":4.44},{"c":"Light","x":5.61,"y":4.25},{"c":"Light","x":5.46,"y":2.86},{"c":"Light","x":5.61,"y":2.81},{"c":"Light","x":6.5,"y":2.81},{"c":"Light","x":5.65,"y":1.73},
{"c":"Deep","x":1.55,"y":-0.42},{"c":"Deep","x":1.65,"y":-0.55},{"c":"Deep","x":1.62,"y":-0.2},{"c":"Deep","x":1.72,"y":-0.12},{"c":"Deep","x":1.45,"y":-0.08},{"c":"Deep","x":1.35,"y":-0.02},{"c":"Deep","x":1.15,"y":0.02},{"c":"Deep","x":0.85,"y":0.05},{"c":"Deep","x":0.6,"y":0.18},{"c":"Deep","x":0.3,"y":0.25},{"c":"Deep","x":-0.1,"y":0.42},{"c":"Deep","x":-0.3,"y":0.6},{"c":"Deep","x":1.42,"y":-0.85},{"c":"Deep","x":1.3,"y":-1.15},{"c":"Deep","x":1.15,"y":-1.45},{"c":"Deep","x":0.95,"y":-1.62},{"c":"Deep","x":-2.2,"y":1.1},{"c":"Deep","x":-2.1,"y":0.95},{"c":"Deep","x":-2.0,"y":0.85},{"c":"Deep","x":-2.28,"y":1.25},{"c":"Deep","x":-2.0,"y":1.9},{"c":"Deep","x":-1.9,"y":1.8},{"c":"Deep","x":-2.15,"y":2.15},{"c":"Deep","x":-2.05,"y":2.05},{"c":"Deep","x":1.7,"y":-0.35},{"c":"Deep","x":1.78,"y":-0.5},{"c":"Deep","x":1.58,"y":-0.9},{"c":"Deep","x":1.8,"y":0.0}
]},
"mark":{"type":"point","filled":true,"size":11,"opacity":0.88,"strokeWidth":0},
"encoding":{
"x":{"field":"x","type":"quantitative"},
"y":{"field":"y","type":"quantitative"},
"fill":{"field":"c","type":"nominal","scale":{"domain":["Wake","REM","Light","Deep"],"range":["#d8333f","#e6dc50","#2f3f80","#0e5f9b"]},"legend":null}
}},
{"data":{"values":[
{"x":-2.3,"y":1.6,"y2":1.45},{"x":-2.1,"y":2.2,"y2":0.95},{"x":-1.9,"y":2.12,"y2":0.55},{"x":-1.5,"y":1.7,"y2":-0.05},{"x":-1.0,"y":1.2,"y2":-0.7},{"x":-0.5,"y":0.7,"y2":-1.2},{"x":0.0,"y":0.3,"y2":-1.5},{"x":0.3,"y":0.15,"y2":-1.65},{"x":0.7,"y":0.0,"y2":-1.72},{"x":1.0,"y":-0.05,"y2":-1.45},{"x":1.3,"y":-0.12,"y2":-1.1},{"x":1.5,"y":-0.2,"y2":-0.95},{"x":1.7,"y":-0.38,"y2":-0.65},{"x":1.78,"y":-0.48,"y2":-0.55}
]},
"mark":{"type":"area","color":"#0e5f9b"},
"encoding":{"x":{"field":"x","type":"quantitative"},"y":{"field":"y","type":"quantitative"},"y2":{"field":"y2"}}}
]}
